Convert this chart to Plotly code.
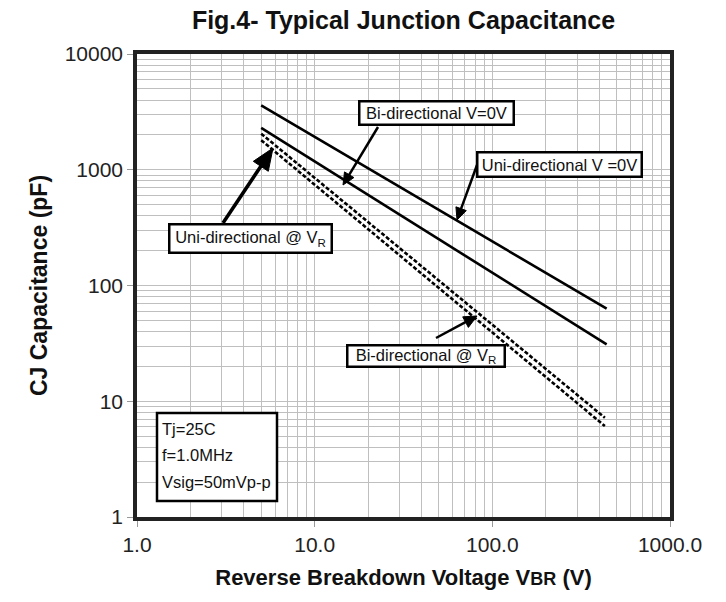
import math
import plotly.graph_objects as go

# ---- data ----
uni_0v_x = [5, 440]
uni_0v_y = [3600, 63]
bi_0v_x = [5, 440]
bi_0v_y = [2300, 31]
uni_vr_x = [5, 430]
uni_vr_y = [2050, 7.2]
bi_vr_x = [5, 430]
bi_vr_y = [1800, 6.1]

x_tick_vals = [1, 10, 100, 1000]
x_tick_text = ["1.0", "10.0", "100.0", "1000.0"]
y_tick_vals = [1, 10, 100, 1000, 10000]
y_tick_text = ["1", "10", "100", "1000", "10000"]

FONT = "Liberation Sans, Arial, sans-serif"

fig = go.Figure()
solid = dict(color="black", width=2.6)
dashed = dict(color="black", width=2.6, dash="4px,2px")
fig.add_trace(go.Scatter(x=uni_0v_x, y=uni_0v_y, mode="lines", line=solid, name="Uni-directional V=0V"))
fig.add_trace(go.Scatter(x=bi_0v_x, y=bi_0v_y, mode="lines", line=solid, name="Bi-directional V=0V"))
fig.add_trace(go.Scatter(x=uni_vr_x, y=uni_vr_y, mode="lines", line=dashed, name="Uni-directional @ VR"))
fig.add_trace(go.Scatter(x=bi_vr_x, y=bi_vr_y, mode="lines", line=dashed, name="Bi-directional @ VR"))

W, H = 726, 602
L, R, T, B = 137, 56, 54, 85
pw, ph = W - L - R, H - T - B


def px_to_paper(px, py):
    return (px - L) / pw, (H - B - py) / ph


annotations = []
shapes = []
BOXFONT = dict(family=FONT, size=16.5, color="#111")


def box(text, cx, cy, w, h):
    x, y = px_to_paper(cx, cy)
    annotations.append(dict(
        text=text, x=x, y=y, xref="paper", yref="paper", showarrow=False,
        xanchor="center", yanchor="middle", width=w, height=h,
        bgcolor="white", bordercolor="black", borderwidth=2.5, borderpad=1,
        font=BOXFONT,
    ))


def arrow(hx, hy, tx, ty, head_len=12, head_half=5.5, width=2.5):
    dx, dy = hx - tx, hy - ty
    n = math.hypot(dx, dy)
    ux, uy = dx / n, dy / n
    bx, by = hx - ux * head_len, hy - uy * head_len
    px_, py_ = -uy, ux
    x0, y0 = px_to_paper(tx, ty)
    x1, y1 = px_to_paper(bx + ux * 1, by + uy * 1)
    shapes.append(dict(type="line", xref="paper", yref="paper", x0=x0, y0=y0, x1=x1, y1=y1,
                       line=dict(color="black", width=width), layer="above"))
    pts = [(hx, hy), (bx + px_ * head_half, by + py_ * head_half), (bx - px_ * head_half, by - py_ * head_half)]
    pp = [px_to_paper(a, b) for a, b in pts]
    path = "M {} {} L {} {} L {} {} Z".format(pp[0][0], pp[0][1], pp[1][0], pp[1][1], pp[2][0], pp[2][1])
    shapes.append(dict(type="path", xref="paper", yref="paper", path=path,
                       fillcolor="black", line=dict(color="black", width=1), layer="above"))


arrow(343, 185, 378, 127)
arrow(457, 220, 477, 165)
arrow(273, 148, 223, 223, head_len=22, head_half=9, width=3.5)
arrow(477, 316, 436, 338, head_len=13, head_half=6)

box("Bi-directional V=0V", 436, 113, 150, 19)
box("Uni-directional V =0V", 559, 164.5, 160, 20)
box("Uni-directional @ V<sub>R</sub>", 250, 238, 158, 24)
box("Bi-directional @ V<sub>R</sub>", 426, 356, 153, 17)

for txt, py in [("Tj=25C", 429), ("f=1.0MHz", 455), ("Vsig=50mVp-p", 482)]:
    x, y = px_to_paper(160, py)
    annotations.append(dict(text=txt, x=x, y=y, xref="paper", yref="paper", showarrow=False,
                            xanchor="left", yanchor="middle", font=BOXFONT))

bx0, by1 = px_to_paper(157, 413)
bx1, by0 = px_to_paper(277, 501)
shapes.append(dict(type="rect", xref="paper", yref="paper", x0=bx0, x1=bx1, y0=by0, y1=by1,
                   line=dict(color="black", width=2.5), fillcolor="white", layer="above"))

axis_common = dict(
    type="log", showline=True, mirror=True, linewidth=3.5, linecolor="#222",
    showgrid=True, gridcolor="#bfbfbf", gridwidth=1.2,
    ticks="outside", ticklen=6, tickwidth=1.2, tickcolor="#999",
    tickfont=dict(family=FONT, size=21, color="#222"),
    minor=dict(dtick="D1", showgrid=True, gridcolor="#bfbfbf", gridwidth=1.2, ticks=""),
    zeroline=False,
)

fig.update_layout(
    width=W, height=H,
    margin=dict(l=L, r=R, t=T, b=B),
    paper_bgcolor="white", plot_bgcolor="white",
    showlegend=False,
    title=dict(text="<b>Fig.4- Typical Junction Capacitance</b>", x=(L + pw / 2) / W, xanchor="center",
               y=1 - 20 / H, yanchor="middle",
               font=dict(family=FONT, size=25, color="#111")),
    xaxis=dict(axis_common, range=[0, 3], tickvals=x_tick_vals, ticktext=x_tick_text,
               title=dict(text="<b>Reverse Breakdown Voltage V<span style='font-size:18px'>BR</span> (V)</b>",
                          font=dict(family=FONT, size=22, color="#111"), standoff=16)),
    yaxis=dict(axis_common, range=[0, 4], tickvals=y_tick_vals, ticktext=y_tick_text,
               title=dict(text="<b>CJ Capacitance (pF)</b>",
                          font=dict(family=FONT, size=23, color="#111"), standoff=12)),
    annotations=annotations,
    shapes=shapes,
)

fig.write_html("out.html", config={"displayModeBar": False},
               post_script="document.body.style.margin='0';document.body.style.padding='0';")
